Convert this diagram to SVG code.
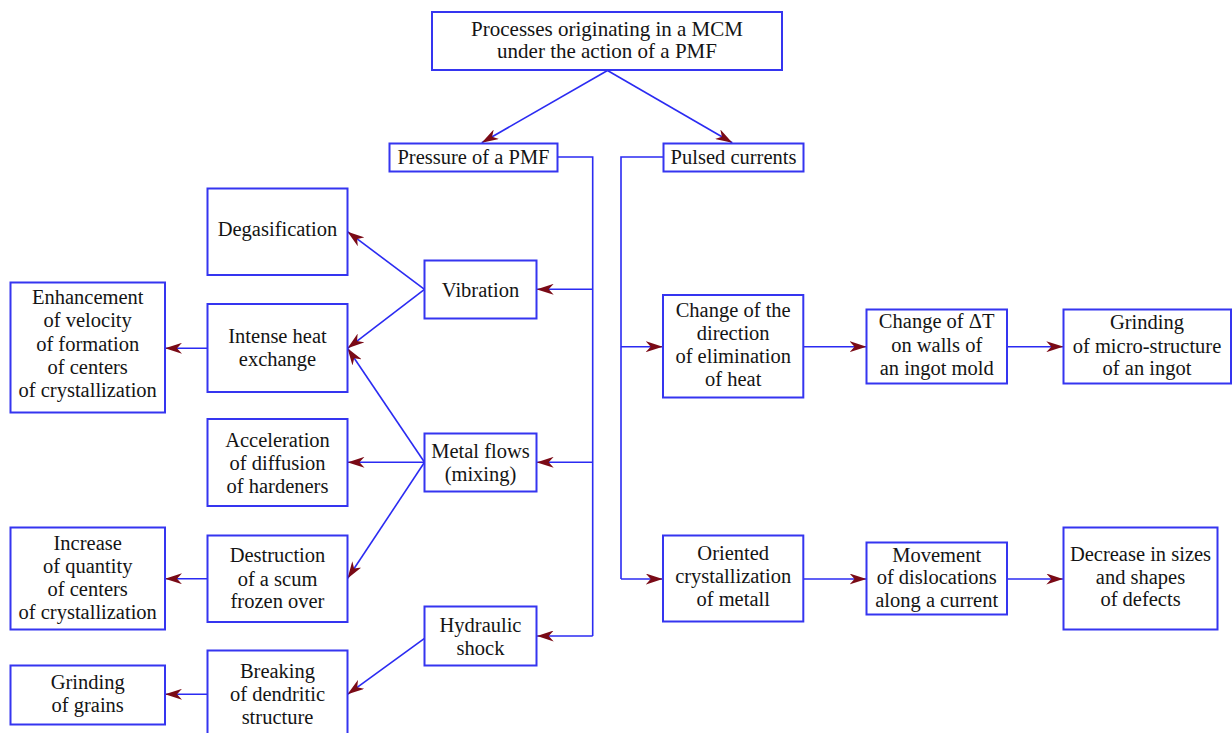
<svg xmlns="http://www.w3.org/2000/svg" width="1232" height="733" viewBox="0 0 1232 733">
<defs>
<style>
.box{fill:#ffffff;stroke:#3535f0;stroke-width:2}
.t{font-family:"Liberation Serif","Times New Roman",serif;font-size:20.5px;fill:#141414;text-anchor:middle}
.top{font-size:21px}
.c{fill:none;stroke:#2b2bf2;stroke-width:1.6}
</style>
<marker id="ah" viewBox="0 0 17 11" refX="17" refY="5.5" markerWidth="17" markerHeight="11" markerUnits="userSpaceOnUse" orient="auto">
<path d="M0,0 L17,5.5 L0,11 L5,5.5 Z" fill="#7a0a16"/>
</marker>
</defs>
<rect width="1232" height="733" fill="#ffffff"/>

<g id="connectors">
<line class="c" x1="607.5" y1="70.5" x2="481.7" y2="142.7" marker-end="url(#ah)"/>
<line class="c" x1="607.5" y1="70.5" x2="732.3" y2="142.7" marker-end="url(#ah)"/>
<polyline class="c" points="557.7,157 592.7,157 592.7,636"/>
<line class="c" x1="592.7" y1="289.3" x2="536.7" y2="289.3" marker-end="url(#ah)"/>
<line class="c" x1="592.7" y1="462.3" x2="536.7" y2="462.3" marker-end="url(#ah)"/>
<line class="c" x1="592.7" y1="636" x2="536.7" y2="636" marker-end="url(#ah)"/>
<polyline class="c" points="663.5,157 621,157 621,579"/>
<line class="c" x1="621" y1="346.7" x2="662.7" y2="346.7" marker-end="url(#ah)"/>
<line class="c" x1="621" y1="579" x2="662.7" y2="579" marker-end="url(#ah)"/>
<line class="c" x1="803.3" y1="346.7" x2="866.5" y2="346.7" marker-end="url(#ah)"/>
<line class="c" x1="1007" y1="346.7" x2="1063.3" y2="346.7" marker-end="url(#ah)"/>
<line class="c" x1="803.3" y1="579" x2="866.5" y2="579" marker-end="url(#ah)"/>
<line class="c" x1="1007" y1="579" x2="1063.3" y2="579" marker-end="url(#ah)"/>
<line class="c" x1="424.5" y1="289.3" x2="347.5" y2="231.7" marker-end="url(#ah)"/>
<line class="c" x1="424.5" y1="289.3" x2="347.5" y2="348.3" marker-end="url(#ah)"/>
<line class="c" x1="424.5" y1="462.3" x2="347.5" y2="348.3" marker-end="url(#ah)"/>
<line class="c" x1="424.5" y1="462.3" x2="347.5" y2="462.3" marker-end="url(#ah)"/>
<line class="c" x1="424.5" y1="462.3" x2="347.5" y2="578.5" marker-end="url(#ah)"/>
<line class="c" x1="424.5" y1="638.3" x2="347.5" y2="694.3" marker-end="url(#ah)"/>
<line class="c" x1="207.5" y1="348.3" x2="165" y2="348.3" marker-end="url(#ah)"/>
<line class="c" x1="207.5" y1="578.7" x2="165" y2="578.7" marker-end="url(#ah)"/>
<line class="c" x1="207.5" y1="694.3" x2="165" y2="694.3" marker-end="url(#ah)"/>
</g>

<g id="n-top"><rect class="box" x="432" y="12" width="350" height="58"/>
<text class="t top" x="607" y="35.5">Processes originating in a MCM</text>
<text class="t top" x="607" y="58">under the action of a PMF</text></g>

<g id="n-pressure"><rect class="box" x="389.5" y="143.5" width="168" height="28"/>
<text class="t" x="473.5" y="164">Pressure of a PMF</text></g>

<g id="n-pulsed"><rect class="box" x="663.5" y="143.5" width="140" height="28"/>
<text class="t" x="733.5" y="164">Pulsed currents</text></g>

<g id="n-degas"><rect class="box" x="207.5" y="188.5" width="140" height="86.5"/>
<text class="t" x="277.5" y="236">Degasification</text></g>

<g id="n-vibration"><rect class="box" x="424.5" y="260.5" width="112" height="58"/>
<text class="t" x="480.5" y="297">Vibration</text></g>

<g id="n-enhance"><rect class="box" x="10.5" y="282.5" width="154.5" height="130"/>
<text class="t" x="87.7" y="304">Enhancement</text>
<text class="t" x="87.7" y="327.3">of velocity</text>
<text class="t" x="87.7" y="350.6">of formation</text>
<text class="t" x="87.7" y="374">of centers</text>
<text class="t" x="87.7" y="397.3">of crystallization</text></g>

<g id="n-intense"><rect class="box" x="207.5" y="304" width="140" height="88"/>
<text class="t" x="277.5" y="343">Intense heat</text>
<text class="t" x="277.5" y="366">exchange</text></g>

<g id="n-accel"><rect class="box" x="207.5" y="419" width="140" height="87"/>
<text class="t" x="277.5" y="446.7">Acceleration</text>
<text class="t" x="277.5" y="470">of diffusion</text>
<text class="t" x="277.5" y="492.7">of hardeners</text></g>

<g id="n-metal"><rect class="box" x="424.5" y="433.5" width="112" height="58"/>
<text class="t" x="480.5" y="457.5">Metal flows</text>
<text class="t" x="480.5" y="480.5">(mixing)</text></g>

<g id="n-increase"><rect class="box" x="10.5" y="527.5" width="154.5" height="102"/>
<text class="t" x="87.7" y="550">Increase</text>
<text class="t" x="87.7" y="572.7">of quantity</text>
<text class="t" x="87.7" y="595.7">of centers</text>
<text class="t" x="87.7" y="619">of crystallization</text></g>

<g id="n-destruction"><rect class="box" x="207.5" y="535.5" width="140" height="86.5"/>
<text class="t" x="277.5" y="562.3">Destruction</text>
<text class="t" x="277.5" y="585.7">of a scum</text>
<text class="t" x="277.5" y="608.3">frozen over</text></g>

<g id="n-hydraulic"><rect class="box" x="424.5" y="606.5" width="112" height="59"/>
<text class="t" x="480.5" y="631.7">Hydraulic</text>
<text class="t" x="480.5" y="655">shock</text></g>

<g id="n-grains"><rect class="box" x="10.5" y="665.5" width="154.5" height="59"/>
<text class="t" x="87.7" y="689.3">Grinding</text>
<text class="t" x="87.7" y="711.7">of grains</text></g>

<g id="n-breaking"><rect class="box" x="207.5" y="650.5" width="140" height="92"/>
<text class="t" x="277.5" y="677.7">Breaking</text>
<text class="t" x="277.5" y="701">of dendritic</text>
<text class="t" x="277.5" y="724">structure</text></g>

<g id="n-changedir"><rect class="box" x="663" y="295" width="140.3" height="102.5"/>
<text class="t" x="733.2" y="316.7">Change of the</text>
<text class="t" x="733.2" y="340">direction</text>
<text class="t" x="733.2" y="362.7">of elimination</text>
<text class="t" x="733.2" y="386">of heat</text></g>

<g id="n-deltat"><rect class="box" x="866.5" y="309.5" width="140.5" height="74"/>
<text class="t" x="936.7" y="328.3">Change of ΔT</text>
<text class="t" x="936.7" y="351.7">on walls of</text>
<text class="t" x="936.7" y="375">an ingot mold</text></g>

<g id="n-grindmicro"><rect class="box" x="1063.5" y="309.5" width="167.5" height="74"/>
<text class="t" x="1147" y="329.3">Grinding</text>
<text class="t" x="1147" y="352.7">of micro-structure</text>
<text class="t" x="1147" y="375">of an ingot</text></g>

<g id="n-oriented"><rect class="box" x="663" y="535.5" width="140.3" height="86"/>
<text class="t" x="733.2" y="560">Oriented</text>
<text class="t" x="733.2" y="583.3">crystallization</text>
<text class="t" x="733.2" y="606">of metall</text></g>

<g id="n-movement"><rect class="box" x="866.5" y="542.5" width="140.5" height="72"/>
<text class="t" x="936.7" y="561.7">Movement</text>
<text class="t" x="936.7" y="584.3">of dislocations</text>
<text class="t" x="936.7" y="607.3">along a current</text></g>

<g id="n-decrease"><rect class="box" x="1063.5" y="527.5" width="154" height="102"/>
<text class="t" x="1140.5" y="560.7">Decrease in sizes</text>
<text class="t" x="1140.5" y="584">and shapes</text>
<text class="t" x="1140.5" y="606">of defects</text></g>
</svg>
